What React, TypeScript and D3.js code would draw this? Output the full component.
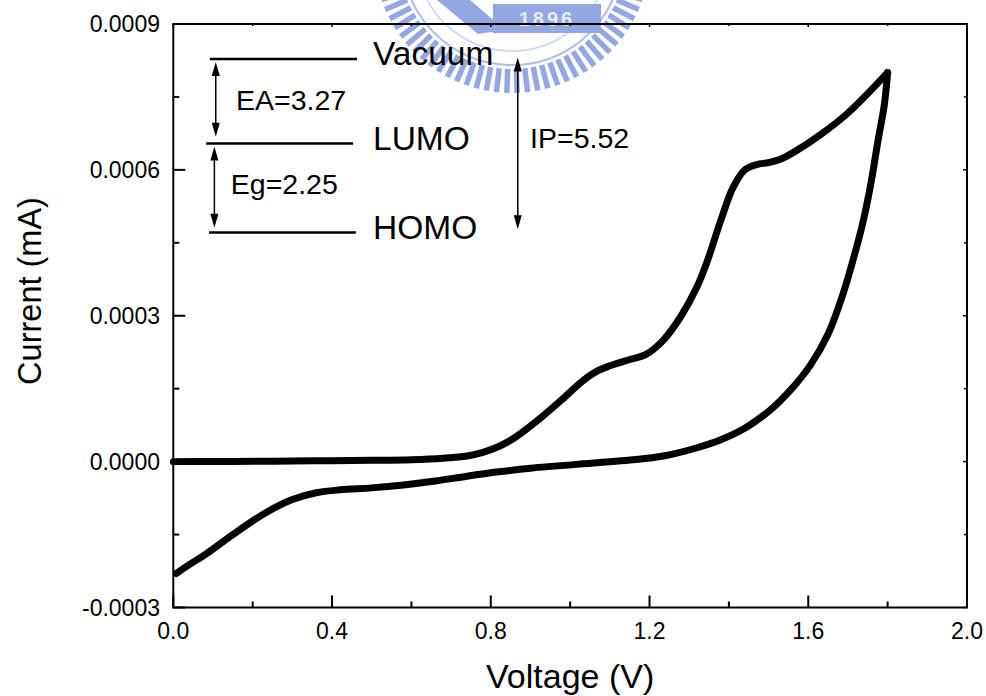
import React from "react";
import * as d3 from "d3";

// Forward scan (0 -> 1.8 V)
const FWD_V = [0.0, 0.1, 0.2, 0.3, 0.4, 0.5, 0.6, 0.68, 0.74, 0.78, 0.82, 0.86, 0.92, 0.98, 1.03, 1.07, 1.1, 1.15, 1.19, 1.235, 1.28, 1.32, 1.345, 1.38, 1.41, 1.44, 1.47, 1.5, 1.53, 1.565, 1.63, 1.7, 1.8];
const FWD_I = [0.0, 0.0000003, 0.0000006, 0.0000012, 0.0000019, 0.0000026, 0.000004, 0.000007, 0.0000115, 0.000019, 0.000031, 0.000049, 0.000086, 0.000128, 0.000165, 0.000187, 0.000197, 0.00021, 0.00022, 0.00025, 0.0003, 0.00036, 0.000411, 0.000497, 0.000563, 0.0006, 0.000611, 0.000615, 0.000622, 0.000637, 0.000672, 0.000717, 0.0008];
// Reverse scan (1.8 -> 0 V)
const REV_V = [1.8, 1.7915, 1.776, 1.756, 1.736, 1.713, 1.686, 1.651, 1.605, 1.555, 1.504, 1.441, 1.378, 1.318, 1.235, 1.151, 1.068, 0.9, 0.82, 0.74, 0.66, 0.58, 0.5, 0.42, 0.36, 0.3, 0.235, 0.15, 0.084, 0.04, 0.008];
const REV_I = [0.0008, 0.000733, 0.000661, 0.000564, 0.000486, 0.000415, 0.000341, 0.000264, 0.000198, 0.000147, 0.000106, 0.0000691, 0.0000444, 0.000028, 0.0000115, 0.0000033, -0.0000023, -0.0000135, -0.000021, -0.00003, -0.00004, -0.000048, -0.000054, -0.000058, -0.000064, -0.000078, -0.000104, -0.00015, -0.000189, -0.000212, -0.00023];

const X_TICKS = [0.0, 0.4, 0.8, 1.2, 1.6, 2.0];
const X_MINOR = [0.2, 0.6, 1.0, 1.4, 1.8];
const Y_TICKS = [-0.0003, 0.0, 0.0003, 0.0006, 0.0009];
const Y_MINOR = [-0.00015, 0.00015, 0.00045, 0.00075];

// energy level diagram (drawn in data units)
const LEVEL_NAMES = ["Vacuum", "LUMO", "HOMO"];
const LEVEL_I = [0.000828, 0.000654, 0.000471];
const LEVEL_V0 = [0.092, 0.083, 0.09];
const LEVEL_V1 = [0.463, 0.453, 0.46];
const GAP_LABELS = ["EA=3.27", "Eg=2.25", "IP=5.52"];
const GAP_V = [0.107, 0.1035, 0.868];
const GAP_I0 = [0.000822, 0.000648, 0.000831];
const GAP_I1 = [0.000668, 0.000481, 0.000478];
const GAP_LABEL_V = [0.158, 0.145, 0.899];
const GAP_LABEL_I = [0.000724, 0.00055, 0.000644];

const W = 986, H = 696;
const M = { left: 173.3, right: 967, top: 24, bottom: 607.5 };
const FONT = "'Liberation Sans', Arial, Helvetica, sans-serif";

export default function App() {
  const x = d3.scaleLinear().domain([0, 2]).range([M.left, M.right]);
  const y = d3.scaleLinear().domain([-0.0003, 0.0009]).range([M.bottom, M.top]);

  const line = d3
    .line<[number, number]>()
    .x((d) => x(d[0]))
    .y((d) => y(d[1]))
    .curve(d3.curveCatmullRom.alpha(0.5));

  const fwd = FWD_V.map((v, i) => [v, FWD_I[i]] as [number, number]);
  const rev = REV_V.map((v, i) => [v, REV_I[i]] as [number, number]);

  // watermark geometry
  const cx = 512, cy = -45;
  const arc = (r: number, a0: number, a1: number) => {
    const p0 = [cx + r * Math.cos(a0), cy + r * Math.sin(a0)];
    const p1 = [cx + r * Math.cos(a1), cy + r * Math.sin(a1)];
    return `M${p0[0]},${p0[1]} A${r},${r} 0 0 1 ${p1[0]},${p1[1]}`;
  };
  const teeth: React.ReactNode[] = [];
  for (let k = 0; k < 40; k++) {
    const a = (6 + k * (168 / 39)) * (Math.PI / 180);
    const r0 = 114, r1 = 138;
    const dx = Math.cos(a), dy = Math.sin(a);
    teeth.push(
      <line key={k} x1={cx + r0 * dx} y1={cy + r0 * dy} x2={cx + r1 * dx} y2={cy + r1 * dy}
        stroke="#8ea4e2" strokeWidth={5.5} />
    );
  }

  const arrow = (xv: number, y0: number, y1: number, key: string) => {
    const px = x(xv), py0 = y(y0), py1 = y(y1);
    const hl = 14, hw = 4;
    return (
      <g key={key}>
        <line x1={px} y1={py0 + 4} x2={px} y2={py1 - 4} stroke="#000" strokeWidth={1.5} />
        <path d={`M${px},${py0} L${px - hw},${py0 + hl} L${px + hw},${py0 + hl} Z`} fill="#000" />
        <path d={`M${px},${py1} L${px - hw},${py1 - hl} L${px + hw},${py1 - hl} Z`} fill="#000" />
      </g>
    );
  };

  return (
    <svg width={W} height={H} style={{ position: "absolute", left: 0, top: 0, background: "#fff" }} fontFamily={FONT}>
      <rect x={0} y={0} width={W} height={H} fill="#fff" />
      {/* watermark */}
      <g opacity={0.95}>
        {teeth}
        <path d={arc(110, 0.2, Math.PI - 0.2)} fill="none" stroke="#a9b9ea" strokeWidth={2} />
        <path d={arc(96, 0.35, Math.PI - 0.35)} fill="none" stroke="#c7d2f2" strokeWidth={1.5} />
        <path d="M437,0 L470,0 L505,30 L478,34 Z" fill="#8ea4e2" />
        <rect x={493} y={4} width={108} height={29} fill="#8ea4e2" />
        <text x={547} y={26} textAnchor="middle" fontSize={20} fontWeight="bold" fill="#e4e9f8" letterSpacing={3}>1896</text>
      </g>

      {/* frame */}
      <rect x={M.left} y={M.top} width={M.right - M.left} height={M.bottom - M.top} fill="none" stroke="#000" strokeWidth={2} />

      {/* x ticks */}
      {X_TICKS.map((t) => (
        <g key={"xt" + t}>
          <line x1={x(t)} x2={x(t)} y1={M.bottom} y2={M.bottom - 12} stroke="#000" strokeWidth={2} />
          <line x1={x(t)} x2={x(t)} y1={M.top} y2={M.top + 3} stroke="#000" strokeWidth={1.5} />
          <text x={x(t)} y={639} textAnchor="middle" fontSize={23}>{t.toFixed(1)}</text>
        </g>
      ))}
      {X_MINOR.map((t) => (
        <g key={"xm" + t}>
          <line x1={x(t)} x2={x(t)} y1={M.bottom} y2={M.bottom - 6} stroke="#000" strokeWidth={2} />
          <line x1={x(t)} x2={x(t)} y1={M.top} y2={M.top + 2} stroke="#000" strokeWidth={1.5} />
        </g>
      ))}
      {/* y ticks */}
      {Y_TICKS.map((t) => (
        <g key={"yt" + t}>
          <line x1={M.left} x2={M.left + 12} y1={y(t)} y2={y(t)} stroke="#000" strokeWidth={2} />
          <line x1={M.right} x2={M.right - 4} y1={y(t)} y2={y(t)} stroke="#000" strokeWidth={1.5} />
          <text x={160} y={y(t) + 8} textAnchor="end" fontSize={23}>{t.toFixed(4)}</text>
        </g>
      ))}
      {Y_MINOR.map((t) => (
        <g key={"ym" + t}>
          <line x1={M.left} x2={M.left + 6} y1={y(t)} y2={y(t)} stroke="#000" strokeWidth={2} />
          <line x1={M.right} x2={M.right - 3} y1={y(t)} y2={y(t)} stroke="#000" strokeWidth={1.5} />
        </g>
      ))}

      {/* axis titles */}
      <text x={(M.left + M.right) / 2} y={688} textAnchor="middle" fontSize={34}>Voltage (V)</text>
      <text transform={`translate(41,291) rotate(-90)`} textAnchor="middle" fontSize={32.5}>Current (mA)</text>

      {/* CV curve */}
      <path d={line(fwd) || ""} fill="none" stroke="#000" strokeWidth={7} strokeLinejoin="round" strokeLinecap="round" />
      <path d={line(rev) || ""} fill="none" stroke="#000" strokeWidth={7} strokeLinejoin="round" strokeLinecap="round" />

      {/* energy level diagram */}
      {LEVEL_NAMES.map((n, i) => (
        <g key={n}>
          <line x1={x(LEVEL_V0[i])} x2={x(LEVEL_V1[i])} y1={y(LEVEL_I[i])} y2={y(LEVEL_I[i])} stroke="#000" strokeWidth={2.5} />
          <text x={373} y={y(LEVEL_I[i]) + 6} fontSize={33.5}>{n}</text>
        </g>
      ))}
      {GAP_LABELS.map((g, i) => (
        <g key={g}>
          {arrow(GAP_V[i], GAP_I0[i], GAP_I1[i], "a" + i)}
          <text x={x(GAP_LABEL_V[i])} y={y(GAP_LABEL_I[i])} fontSize={28.5}>{g}</text>
        </g>
      ))}
    </svg>
  );
}
